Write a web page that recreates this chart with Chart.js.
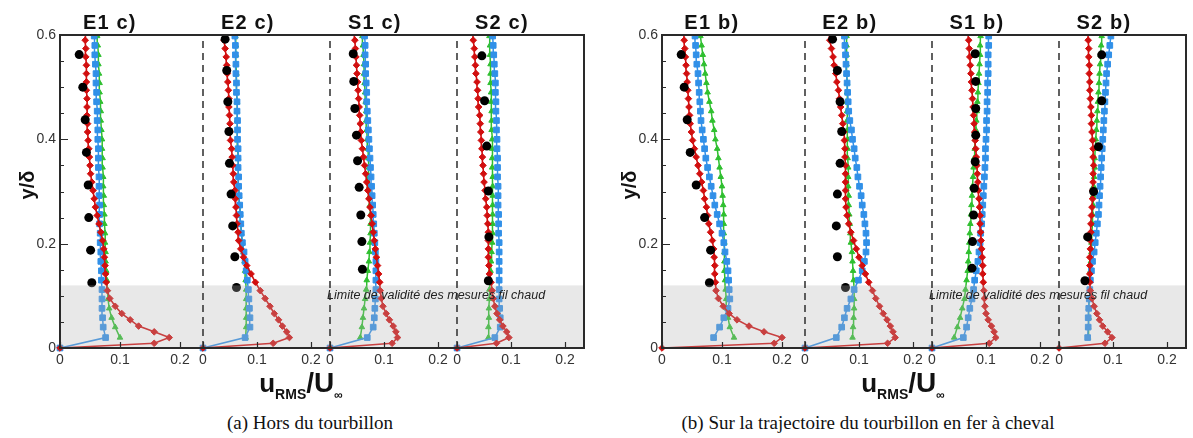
<!DOCTYPE html>
<html>
<head>
<meta charset="utf-8">
<script src="https://cdn.jsdelivr.net/npm/chart.js@4.4.0/dist/chart.umd.min.js"></script>
<style>
  body { margin: 0; background: #fff; width: 1193px; height: 438px; overflow: hidden; position: relative; }
  .panel { position: absolute; top: 0; }
  .cap { position: absolute; top: 412px; width: 600px; text-align: center; font-family: "Liberation Serif", "Times New Roman", serif; font-size: 19px; color: #111; white-space: nowrap; }
</style>
</head>
<body>
<div class="panel" style="left:0"><canvas id="chartA" width="596" height="405"></canvas></div>
<div class="panel" style="left:602px"><canvas id="chartB" width="591" height="405"></canvas></div>
<div class="cap" style="left:10px">(a) Hors du tourbillon</div>
<div class="cap" style="left:568px">(b) Sur la trajectoire du tourbillon en fer à cheval</div>
<script>
const stations = ["E1", "E2", "S1", "S2"];
const xTickValues = [0, 0.1, 0.2];
const yTickValues = [0, 0.2, 0.4, 0.6];
const bandTop = 0.12;
const bandText = "Limite de validité des mesures fil chaud";

// y positions of the simulation profiles (shared by every station)
const redY = [0, 0.009, 0.02, 0.031, 0.042, 0.054, 0.066, 0.08, 0.095, 0.11, 0.126, 0.142, 0.158, 0.174, 0.19, 0.206, 0.222, 0.238, 0.254, 0.27, 0.286, 0.302, 0.318, 0.334, 0.35, 0.366, 0.382, 0.398, 0.414, 0.43, 0.446, 0.462, 0.478, 0.494, 0.51, 0.526, 0.542, 0.558, 0.574, 0.59, 0.606];
const blueY = [0, 0.02, 0.04, 0.058, 0.076, 0.094, 0.112, 0.13, 0.148, 0.166, 0.184, 0.202, 0.22, 0.238, 0.256, 0.274, 0.292, 0.31, 0.328, 0.346, 0.364, 0.382, 0.4, 0.418, 0.436, 0.454, 0.472, 0.49, 0.508, 0.526, 0.544, 0.562, 0.58, 0.598];
const greenY = [0.02, 0.04, 0.058, 0.076, 0.094, 0.112, 0.13, 0.148, 0.166, 0.184, 0.202, 0.22, 0.238, 0.256, 0.274, 0.292, 0.31, 0.328, 0.346, 0.364, 0.382, 0.4, 0.418, 0.436, 0.454, 0.472, 0.49, 0.508, 0.526, 0.544, 0.562, 0.58, 0.598];

// (a) Hors du tourbillon
const aE1BlackY = [0.125, 0.1875, 0.25, 0.3125, 0.375, 0.4375, 0.5, 0.5625];
const aE1BlackX = [0.053, 0.051, 0.048, 0.047, 0.044, 0.042, 0.038, 0.032];
const aE1Red = [0, 0.157, 0.182, 0.157, 0.131, 0.117, 0.103, 0.092, 0.083, 0.079, 0.077, 0.076, 0.075, 0.074, 0.073, 0.071, 0.068, 0.065, 0.062, 0.059, 0.057, 0.055, 0.053, 0.051, 0.05, 0.049, 0.048, 0.047, 0.046, 0.046, 0.045, 0.045, 0.045, 0.044, 0.044, 0.044, 0.044, 0.043, 0.043, 0.042, 0.042];
const aE1Blue = [0, 0.076, 0.072, 0.071, 0.07, 0.07, 0.07, 0.069, 0.069, 0.068, 0.068, 0.067, 0.067, 0.066, 0.066, 0.066, 0.065, 0.065, 0.065, 0.064, 0.064, 0.064, 0.063, 0.063, 0.062, 0.062, 0.061, 0.061, 0.06, 0.06, 0.059, 0.058, 0.058, 0.057];
const aE1Green = [0.1, 0.092, 0.086, 0.082, 0.08, 0.079, 0.078, 0.077, 0.076, 0.076, 0.075, 0.075, 0.074, 0.074, 0.073, 0.073, 0.072, 0.072, 0.071, 0.071, 0.07, 0.07, 0.069, 0.068, 0.068, 0.067, 0.066, 0.066, 0.065, 0.064, 0.064, 0.063, 0.062];

const aE2BlackY = [0.116, 0.175, 0.234, 0.295, 0.354, 0.415, 0.472, 0.532, 0.592];
const aE2BlackX = [0.062, 0.059, 0.055, 0.052, 0.049, 0.048, 0.046, 0.044, 0.041];
const aE2Red = [0, 0.13, 0.16, 0.155, 0.147, 0.14, 0.132, 0.124, 0.115, 0.106, 0.097, 0.089, 0.081, 0.075, 0.07, 0.066, 0.065, 0.063, 0.062, 0.061, 0.06, 0.059, 0.057, 0.056, 0.055, 0.054, 0.053, 0.051, 0.05, 0.05, 0.049, 0.048, 0.048, 0.047, 0.046, 0.045, 0.044, 0.043, 0.041, 0.039, 0.038];
const aE2Blue = [0, 0.078, 0.087, 0.087, 0.086, 0.085, 0.084, 0.082, 0.08, 0.078, 0.076, 0.073, 0.071, 0.07, 0.069, 0.068, 0.067, 0.066, 0.066, 0.065, 0.065, 0.065, 0.064, 0.064, 0.064, 0.063, 0.063, 0.062, 0.062, 0.061, 0.061, 0.06, 0.06, 0.059];
const aE2Green = [0.079, 0.08, 0.08, 0.08, 0.08, 0.08, 0.079, 0.078, 0.077, 0.075, 0.073, 0.071, 0.07, 0.069, 0.068, 0.067, 0.066, 0.066, 0.065, 0.065, 0.064, 0.064, 0.064, 0.063, 0.063, 0.063, 0.062, 0.062, 0.062, 0.061, 0.061, 0.061, 0.06];

const aS1BlackY = [0.151, 0.204, 0.255, 0.308, 0.359, 0.408, 0.459, 0.511, 0.564];
const aS1BlackX = [0.06, 0.059, 0.057, 0.054, 0.051, 0.049, 0.046, 0.044, 0.043];
const aS1Red = [0, 0.115, 0.125, 0.122, 0.117, 0.11, 0.104, 0.098, 0.095, 0.093, 0.092, 0.09, 0.088, 0.086, 0.084, 0.082, 0.08, 0.078, 0.076, 0.074, 0.072, 0.07, 0.068, 0.066, 0.064, 0.062, 0.06, 0.058, 0.057, 0.056, 0.055, 0.054, 0.053, 0.052, 0.051, 0.05, 0.049, 0.048, 0.047, 0.046, 0.045];
const aS1Blue = [0, 0.069, 0.08, 0.082, 0.083, 0.084, 0.085, 0.085, 0.085, 0.085, 0.084, 0.083, 0.082, 0.081, 0.08, 0.079, 0.078, 0.077, 0.076, 0.075, 0.074, 0.073, 0.072, 0.071, 0.07, 0.069, 0.068, 0.068, 0.067, 0.066, 0.066, 0.065, 0.065, 0.064];
const aS1Green = [0.056, 0.059, 0.061, 0.063, 0.065, 0.067, 0.068, 0.07, 0.072, 0.073, 0.074, 0.075, 0.075, 0.075, 0.074, 0.074, 0.073, 0.072, 0.072, 0.071, 0.07, 0.069, 0.068, 0.067, 0.067, 0.066, 0.065, 0.064, 0.063, 0.063, 0.062, 0.061, 0.06];

const aS2BlackY = [0.129, 0.213, 0.301, 0.387, 0.474, 0.56];
const aS2BlackX = [0.058, 0.059, 0.058, 0.055, 0.051, 0.046];
const aS2Red = [0, 0.073, 0.096, 0.092, 0.085, 0.079, 0.074, 0.07, 0.067, 0.065, 0.063, 0.06, 0.059, 0.058, 0.058, 0.058, 0.058, 0.057, 0.056, 0.055, 0.053, 0.052, 0.05, 0.049, 0.048, 0.047, 0.046, 0.045, 0.044, 0.043, 0.042, 0.04, 0.039, 0.038, 0.037, 0.035, 0.034, 0.033, 0.032, 0.03, 0.029];
const aS2Blue = [0, 0.07, 0.08, 0.08, 0.079, 0.078, 0.078, 0.078, 0.078, 0.078, 0.078, 0.078, 0.077, 0.077, 0.077, 0.076, 0.076, 0.076, 0.075, 0.075, 0.075, 0.074, 0.074, 0.073, 0.073, 0.072, 0.072, 0.071, 0.071, 0.07, 0.069, 0.068, 0.067, 0.066];
const aS2Green = [0.058, 0.058, 0.059, 0.059, 0.06, 0.06, 0.061, 0.062, 0.063, 0.064, 0.065, 0.066, 0.066, 0.066, 0.066, 0.066, 0.066, 0.066, 0.065, 0.065, 0.065, 0.065, 0.064, 0.064, 0.064, 0.063, 0.063, 0.062, 0.062, 0.062, 0.061, 0.061, 0.06];

// (b) Sur la trajectoire du tourbillon en fer a cheval
const bE1BlackY = [0.125, 0.1875, 0.25, 0.3125, 0.375, 0.4375, 0.5, 0.5625];
const bE1BlackX = [0.079, 0.081, 0.071, 0.057, 0.047, 0.042, 0.037, 0.032];
const bE1Red = [0, 0.187, 0.2, 0.17, 0.145, 0.125, 0.112, 0.102, 0.094, 0.09, 0.089, 0.088, 0.088, 0.087, 0.086, 0.084, 0.081, 0.078, 0.076, 0.074, 0.071, 0.069, 0.066, 0.063, 0.06, 0.057, 0.054, 0.051, 0.049, 0.047, 0.046, 0.045, 0.044, 0.043, 0.042, 0.041, 0.04, 0.039, 0.038, 0.037, 0.036];
const bE1Blue = [null, 0.086, 0.096, 0.103, 0.11, 0.113, 0.112, 0.111, 0.11, 0.108, 0.105, 0.103, 0.1, 0.096, 0.092, 0.088, 0.085, 0.082, 0.079, 0.076, 0.073, 0.071, 0.069, 0.067, 0.065, 0.064, 0.063, 0.062, 0.061, 0.06, 0.058, 0.057, 0.056, 0.055];
const bE1Green = [0.12, 0.113, 0.11, 0.108, 0.107, 0.106, 0.105, 0.104, 0.104, 0.104, 0.104, 0.103, 0.103, 0.103, 0.102, 0.101, 0.1, 0.098, 0.096, 0.094, 0.092, 0.089, 0.087, 0.084, 0.082, 0.079, 0.076, 0.074, 0.072, 0.07, 0.068, 0.066, 0.064];

const bE2BlackY = [0.116, 0.175, 0.234, 0.295, 0.354, 0.415, 0.472, 0.532, 0.592];
const bE2BlackX = [0.075, 0.06, 0.058, 0.06, 0.065, 0.068, 0.065, 0.06, 0.051];
const bE2Red = [0, 0.153, 0.167, 0.163, 0.158, 0.152, 0.145, 0.138, 0.131, 0.125, 0.118, 0.112, 0.106, 0.1, 0.095, 0.09, 0.085, 0.081, 0.078, 0.076, 0.075, 0.075, 0.075, 0.075, 0.075, 0.074, 0.074, 0.073, 0.072, 0.07, 0.068, 0.066, 0.064, 0.062, 0.059, 0.057, 0.054, 0.052, 0.049, 0.046, 0.044];
const bE2Blue = [0, 0.058, 0.068, 0.073, 0.078, 0.085, 0.091, 0.099, 0.106, 0.11, 0.113, 0.114, 0.113, 0.111, 0.109, 0.106, 0.104, 0.101, 0.098, 0.096, 0.093, 0.091, 0.088, 0.086, 0.083, 0.081, 0.08, 0.079, 0.078, 0.077, 0.076, 0.075, 0.074, 0.073];
const bE2Green = [0.088, 0.089, 0.09, 0.091, 0.091, 0.091, 0.09, 0.089, 0.088, 0.087, 0.085, 0.084, 0.083, 0.082, 0.081, 0.081, 0.08, 0.08, 0.08, 0.079, 0.079, 0.079, 0.079, 0.078, 0.078, 0.078, 0.078, 0.078, 0.077, 0.077, 0.077, 0.077, 0.077];

const bS1BlackY = [0.153, 0.204, 0.255, 0.306, 0.357, 0.408, 0.459, 0.511, 0.564];
const bS1BlackX = [0.074, 0.075, 0.077, 0.078, 0.08, 0.081, 0.081, 0.081, 0.08];
const bS1Red = [0, 0.106, 0.118, 0.115, 0.11, 0.104, 0.1, 0.098, 0.097, 0.096, 0.095, 0.094, 0.094, 0.093, 0.092, 0.091, 0.09, 0.089, 0.089, 0.088, 0.087, 0.086, 0.085, 0.084, 0.083, 0.082, 0.081, 0.08, 0.079, 0.078, 0.077, 0.076, 0.075, 0.074, 0.073, 0.072, 0.071, 0.07, 0.069, 0.068, 0.067];
const bS1Blue = [0, 0.058, 0.064, 0.067, 0.07, 0.074, 0.077, 0.079, 0.082, 0.085, 0.087, 0.089, 0.09, 0.092, 0.093, 0.094, 0.095, 0.096, 0.097, 0.098, 0.099, 0.099, 0.1, 0.101, 0.101, 0.102, 0.102, 0.103, 0.103, 0.104, 0.104, 0.104, 0.105, 0.105];
const bS1Green = [0.041, 0.047, 0.052, 0.056, 0.06, 0.062, 0.064, 0.066, 0.067, 0.068, 0.069, 0.07, 0.071, 0.072, 0.073, 0.074, 0.075, 0.076, 0.077, 0.078, 0.079, 0.08, 0.081, 0.082, 0.083, 0.084, 0.085, 0.086, 0.087, 0.088, 0.089, 0.089, 0.09];

const bS2BlackY = [0.129, 0.213, 0.3, 0.386, 0.474, 0.562];
const bS2BlackX = [0.048, 0.053, 0.064, 0.073, 0.079, 0.079];
const bS2Red = [0, 0.085, 0.098, 0.09, 0.081, 0.075, 0.07, 0.065, 0.061, 0.058, 0.057, 0.057, 0.057, 0.057, 0.058, 0.058, 0.059, 0.059, 0.06, 0.061, 0.062, 0.062, 0.063, 0.063, 0.064, 0.063, 0.063, 0.062, 0.061, 0.06, 0.06, 0.059, 0.058, 0.057, 0.057, 0.056, 0.056, 0.055, 0.055, 0.054, 0.053];
const bS2Blue = [null, 0.053, 0.054, 0.054, 0.055, 0.056, 0.057, 0.058, 0.06, 0.062, 0.065, 0.067, 0.069, 0.071, 0.073, 0.074, 0.075, 0.076, 0.077, 0.078, 0.079, 0.08, 0.081, 0.082, 0.083, 0.084, 0.085, 0.086, 0.087, 0.088, 0.09, 0.092, 0.094, 0.096];
const bS2Green = [0.054, 0.054, 0.055, 0.055, 0.056, 0.057, 0.057, 0.058, 0.059, 0.06, 0.06, 0.061, 0.062, 0.062, 0.063, 0.063, 0.064, 0.065, 0.066, 0.066, 0.067, 0.068, 0.069, 0.07, 0.071, 0.072, 0.073, 0.074, 0.075, 0.076, 0.077, 0.078, 0.079];

// each station gets its own strip of the shared x axis
const subOffset = [0, 0.2383, 0.45, 0.6617];
const subScale = [1, 0.9, 0.9, 0.9];
const xMax = 0.8733;
const FONT = "'Liberation Sans', Arial, Helvetica, sans-serif";

const RED = "#d10f0f";
const BLUE = "#3190e8";
const GREEN = "#2fbf2f";

function place(k, v) {
  return subOffset[k] + v * subScale[k];
}

function toPoints(ys, xs, k) {
  const pts = [];
  xs.forEach((x, i) => {
    if (x !== null) pts.push({ x: place(k, x), y: ys[i] });
  });
  return pts;
}

const xTickPos = [];
const xTickLab = [];
stations.forEach((s, k) => {
  xTickValues.forEach((v) => {
    xTickPos.push(place(k, v));
    xTickLab.push(v === 0 ? "0" : String(v));
  });
});

function buildDatasets(black, red, blue, green) {
  const sets = [];
  const clip = { left: 8, right: 8, top: 0, bottom: 8 };
  stations.forEach((s, k) => {
    sets.push({
      data: toPoints(greenY, green[k], k), showLine: true, order: 3, clip,
      borderColor: GREEN, backgroundColor: GREEN, borderWidth: 1.5,
      pointStyle: "triangle", pointRadius: 3.2, pointBorderWidth: 1,
    });
    sets.push({
      data: toPoints(blueY, blue[k], k), showLine: true, order: 2, clip,
      borderColor: BLUE, backgroundColor: BLUE, borderWidth: 1.5,
      pointStyle: "rect", pointRadius: 4, pointBorderWidth: 1,
    });
    sets.push({
      data: toPoints(redY, red[k], k), showLine: true, order: 1, clip,
      borderColor: RED, backgroundColor: RED, borderWidth: 1.6,
      pointStyle: "rectRot", pointRadius: 3.3, pointBorderWidth: 1,
    });
    sets.push({
      data: toPoints(black[k][0], black[k][1], k), showLine: false, order: 0, clip,
      borderColor: "#000", backgroundColor: "#000",
      pointStyle: "circle", pointRadius: 4.5, pointBorderWidth: 0,
    });
  });
  return sets;
}

const decor = {
  id: "decor",
  afterDatasetsDraw(chart, args, opts) {
    const ctx = chart.ctx;
    const a = chart.chartArea;
    const xs = chart.scales.x;
    const ys = chart.scales.y;
    ctx.save();

    // shaded zone where hot-wire data is not valid
    const yb = ys.getPixelForValue(bandTop);
    ctx.fillStyle = "rgba(178,178,178,0.3)";
    ctx.fillRect(a.left, yb, a.right - a.left, a.bottom - yb);

    // dashed separators at each station's zero
    ctx.strokeStyle = "#3a3a3a";
    ctx.lineWidth = 1.6;
    ctx.setLineDash([7, 5]);
    for (let k = 1; k < stations.length; k++) {
      const px = Math.round(xs.getPixelForValue(place(k, 0)));
      ctx.beginPath();
      ctx.moveTo(px, a.bottom);
      ctx.lineTo(px, a.top);
      ctx.stroke();
    }
    ctx.setLineDash([]);

    // zone label
    ctx.fillStyle = "#222";
    ctx.font = "italic 12.5px " + FONT;
    ctx.textAlign = "left";
    ctx.textBaseline = "middle";
    ctx.fillText(bandText, xs.getPixelForValue(place(2, 0)) - 3, ys.getPixelForValue(0.1));

    // frame
    ctx.strokeStyle = "#2a2a2a";
    ctx.lineWidth = 2;
    ctx.strokeRect(a.left, a.top, a.right - a.left, a.bottom - a.top);

    // inward ticks
    ctx.lineWidth = 1.2;
    ctx.beginPath();
    for (let v = 0; v <= 0.6001; v += 0.05) {
      const py = Math.round(ys.getPixelForValue(v)) + 0.5;
      const major = Math.abs(v / 0.2 - Math.round(v / 0.2)) < 1e-6;
      ctx.moveTo(a.left, py);
      ctx.lineTo(a.left + (major ? 8 : 4), py);
    }
    xTickPos.forEach((p) => {
      const px = Math.round(xs.getPixelForValue(p)) + 0.5;
      ctx.moveTo(px, a.bottom);
      ctx.lineTo(px, a.bottom - 6);
    });
    ctx.stroke();

    // station titles
    ctx.fillStyle = "#111";
    ctx.font = "bold 20px " + FONT;
    ctx.letterSpacing = "1.2px";
    ctx.textAlign = "center";
    ctx.textBaseline = "alphabetic";
    stations.forEach((s, k) => {
      ctx.fillText(s + " " + opts.suffix, xs.getPixelForValue(place(k, 0.083)), 29);
    });
    ctx.letterSpacing = "0px";

    // y title
    ctx.save();
    ctx.translate(28, 185);
    ctx.rotate(-Math.PI / 2);
    ctx.font = "bold 20px " + FONT;
    ctx.textBaseline = "middle";
    ctx.fillText("y/δ", 0, 0);
    ctx.restore();

    // x title  u_RMS / U_inf
    const parts = [
      ["u", "bold 26px " + FONT, 0],
      ["RMS", "bold 14px " + FONT, 7],
      ["/U", "bold 28px " + FONT, 0],
      ["∞", "bold 12px " + FONT, 7],
    ];
    let total = 0;
    parts.forEach((p) => { ctx.font = p[1]; total += ctx.measureText(p[0]).width; });
    let x = opts.titleX - total / 2;
    ctx.textAlign = "left";
    parts.forEach((p) => {
      ctx.font = p[1];
      ctx.fillText(p[0], x, 392 + p[2]);
      x += ctx.measureText(p[0]).width;
    });

    ctx.restore();
  },
};

function makeChart(id, width, suffix, titleX, black, red, blue, green) {
  return new Chart(document.getElementById(id), {
    type: "scatter",
    data: { datasets: buildDatasets(black, red, blue, green) },
    options: {
      responsive: false,
      animation: false,
      layout: { padding: { left: 0, top: 35, right: width - 584, bottom: 0 } },
      elements: { line: { tension: 0 } },
      scales: {
        x: {
          type: "linear",
          min: 0,
          max: xMax,
          afterBuildTicks: (s) => { s.ticks = xTickPos.map((v) => ({ value: v })); },
          afterFit: (s) => { s.height = 57; },
          grid: { display: false, drawTicks: false },
          border: { display: false },
          ticks: {
            autoSkip: false, maxRotation: 0, padding: 4, color: "#333",
            font: { size: 14, family: FONT },
            callback: (v, i) => xTickLab[i],
          },
        },
        y: {
          min: 0,
          max: 0.6,
          afterBuildTicks: (s) => { s.ticks = yTickValues.map((v) => ({ value: v })); },
          afterFit: (s) => { s.width = 60; },
          grid: { display: false, drawTicks: false },
          border: { display: false },
          ticks: {
            padding: 4, color: "#333",
            font: { size: 14, family: FONT },
            callback: (v) => (v === 0 ? "0" : v.toFixed(1)),
          },
        },
      },
      plugins: {
        legend: { display: false },
        tooltip: { enabled: false },
        decor: { suffix: suffix, titleX: titleX },
      },
    },
    plugins: [decor],
  });
}

makeChart("chartA", 596, "c)", 301,
  [[aE1BlackY, aE1BlackX], [aE2BlackY, aE2BlackX], [aS1BlackY, aS1BlackX], [aS2BlackY, aS2BlackX]],
  [aE1Red, aE2Red, aS1Red, aS2Red],
  [aE1Blue, aE2Blue, aS1Blue, aS2Blue],
  [aE1Green, aE2Green, aS1Green, aS2Green]);

makeChart("chartB", 591, "b)", 301,
  [[bE1BlackY, bE1BlackX], [bE2BlackY, bE2BlackX], [bS1BlackY, bS1BlackX], [bS2BlackY, bS2BlackX]],
  [bE1Red, bE2Red, bS1Red, bS2Red],
  [bE1Blue, bE2Blue, bS1Blue, bS2Blue],
  [bE1Green, bE2Green, bS1Green, bS2Green]);
</script>
</body>
</html>
